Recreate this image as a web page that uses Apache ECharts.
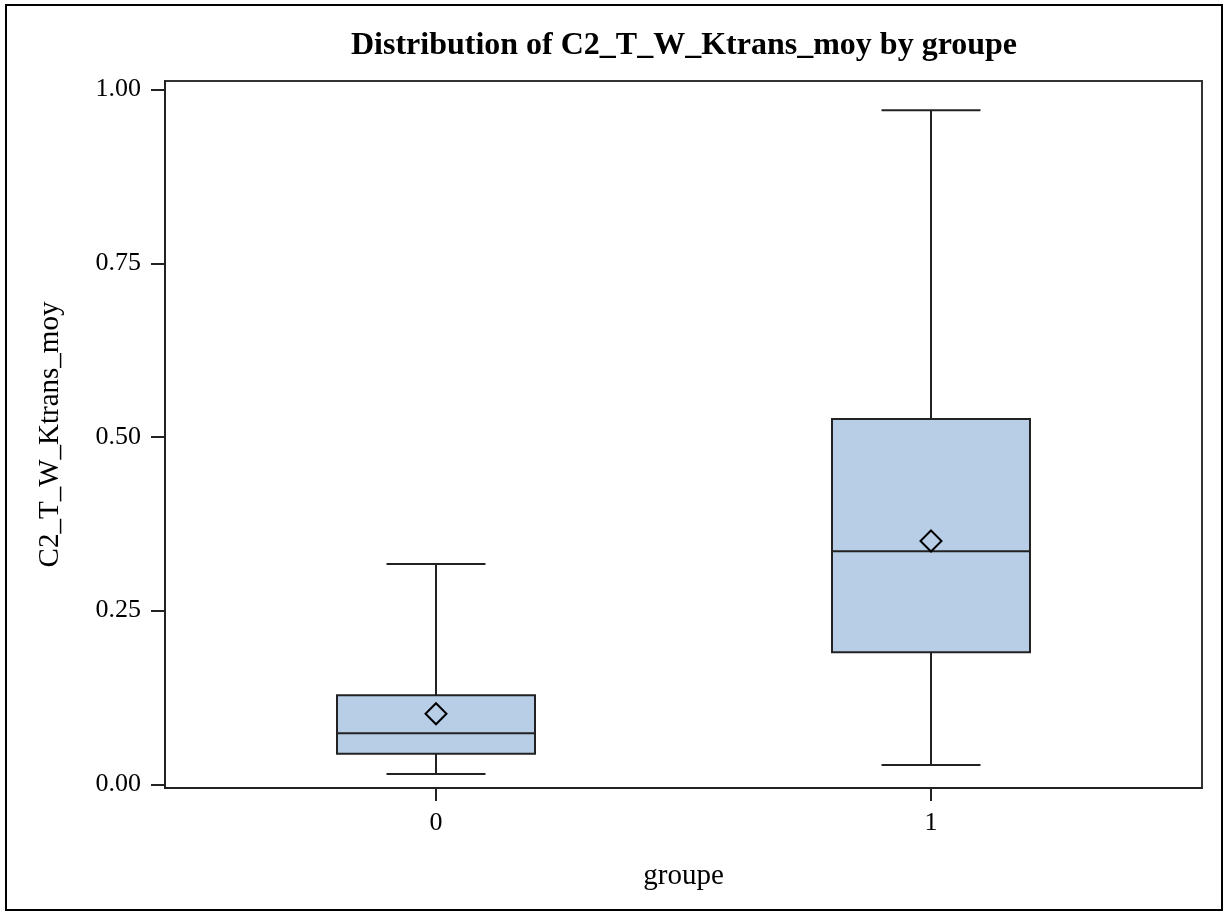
<!DOCTYPE html>
<html>
<head>
<meta charset="utf-8">
<script src="https://cdn.jsdelivr.net/npm/echarts@6/dist/echarts.min.js"></script>
<style>
html,body{margin:0;padding:0;background:#fff;}
#chart{width:1225px;height:913px;}
</style>
</head>
<body>
<div id="chart"></div>
<script>
// Data
const groups = [0, 1];
const groupLabels = ['0', '1'];
const whiskerLow = [0.0148, 0.0278];
const q1 = [0.0441, 0.190];
const median = [0.0734, 0.3354];
const q3 = [0.1281, 0.5258];
const whiskerHigh = [0.3171, 0.9702];
const mean = [0.1016, 0.3502];
const yTicks = [0, 0.25, 0.5, 0.75, 1.0];

const titleText = 'Distribution of C2_T_W_Ktrans_moy by groupe';
const xName = 'groupe';
const yName = 'C2_T_W_Ktrans_moy';

const data = groups.map((g, i) => [g, whiskerLow[i], q1[i], median[i], q3[i], whiskerHigh[i], mean[i]]);

const LINE = '#222';
const FILL = '#B8CEE7';
const BOX_W = 0.4;
const FONT = '"Liberation Serif", "DejaVu Serif", serif';

const chart = echarts.init(document.getElementById('chart'), null, {renderer: 'canvas'});

const option = {
  backgroundColor: '#fff',
  animation: false,
  title: {
    text: titleText,
    left: 679,
    top: 25,
    textAlign: 'center',
    textStyle: {fontFamily: FONT, fontSize: 32, fontWeight: 'bold', color: '#000'}
  },
  graphic: [{
    type: 'rect',
    shape: {x: 6, y: 5, width: 1216, height: 905},
    style: {fill: 'none', stroke: '#000', lineWidth: 2},
    silent: true
  }],
  grid: {
    left: 165, top: 81, right: 23, bottom: 125,
    show: true, borderColor: '#333', borderWidth: 2, backgroundColor: 'transparent'
  },
  xAxis: {
    type: 'value',
    min: -0.5475,
    max: 1.5475,
    name: xName,
    nameLocation: 'middle',
    nameGap: 74,
    nameTextStyle: {fontFamily: FONT, fontSize: 29, color: '#000'},
    axisLine: {show: true, onZero: false, lineStyle: {color: '#222', width: 2}},
    axisTick: {show: true, length: 13, customValues: groups, lineStyle: {color: '#222', width: 2}},
    axisLabel: {
      customValues: groups,
      margin: 22,
      fontFamily: FONT, fontSize: 26, color: '#000',
      formatter: v => groupLabels[groups.indexOf(v)] ?? ''
    },
    splitLine: {show: false}
  },
  yAxis: {
    type: 'value',
    min: -0.0053,
    max: 1.0124,
    name: yName,
    nameLocation: 'middle',
    nameGap: 100,
    nameTextStyle: {fontFamily: FONT, fontSize: 29, color: '#000'},
    axisLine: {show: true, onZero: false, lineStyle: {color: '#222', width: 2}},
    axisTick: {show: true, length: 14, customValues: yTicks, lineStyle: {color: '#222', width: 2}},
    axisLabel: {
      customValues: yTicks,
      margin: 24,
      fontFamily: FONT, fontSize: 26, color: '#000',
      formatter: v => v.toFixed(2)
    },
    splitLine: {show: false}
  },
  series: [{
    type: 'custom',
    data: data,
    encode: {x: 0, y: [1, 2, 3, 4, 5, 6]},
    renderItem: function (params, api) {
      const x = api.value(0);
      const pLo = api.coord([x, api.value(1)]);
      const pQ1 = api.coord([x, api.value(2)]);
      const pMed = api.coord([x, api.value(3)]);
      const pQ3 = api.coord([x, api.value(4)]);
      const pHi = api.coord([x, api.value(5)]);
      const pMean = api.coord([x, api.value(6)]);
      const bw = api.size([BOX_W, 0])[0];
      const cw = bw / 2;
      const cx = pMed[0];
      const ls = {stroke: LINE, lineWidth: 2, fill: 'none'};
      const d = 10.5;
      return {
        type: 'group',
        children: [
          {type: 'line', shape: {x1: cx, y1: pQ3[1], x2: cx, y2: pHi[1]}, style: ls},
          {type: 'line', shape: {x1: cx, y1: pQ1[1], x2: cx, y2: pLo[1]}, style: ls},
          {type: 'line', shape: {x1: cx - cw / 2, y1: pHi[1], x2: cx + cw / 2, y2: pHi[1]}, style: ls},
          {type: 'line', shape: {x1: cx - cw / 2, y1: pLo[1], x2: cx + cw / 2, y2: pLo[1]}, style: ls},
          {type: 'rect', shape: {x: cx - bw / 2, y: pQ3[1], width: bw, height: pQ1[1] - pQ3[1]},
            style: {fill: FILL, stroke: LINE, lineWidth: 2}},
          {type: 'line', shape: {x1: cx - bw / 2, y1: pMed[1], x2: cx + bw / 2, y2: pMed[1]}, style: ls},
          {type: 'polygon', shape: {points: [
            [pMean[0], pMean[1] - d], [pMean[0] + d, pMean[1]],
            [pMean[0], pMean[1] + d], [pMean[0] - d, pMean[1]]]},
            style: {fill: 'none', stroke: '#000', lineWidth: 2}}
        ]
      };
    }
  }]
};

chart.setOption(option);
</script>
</body>
</html>
